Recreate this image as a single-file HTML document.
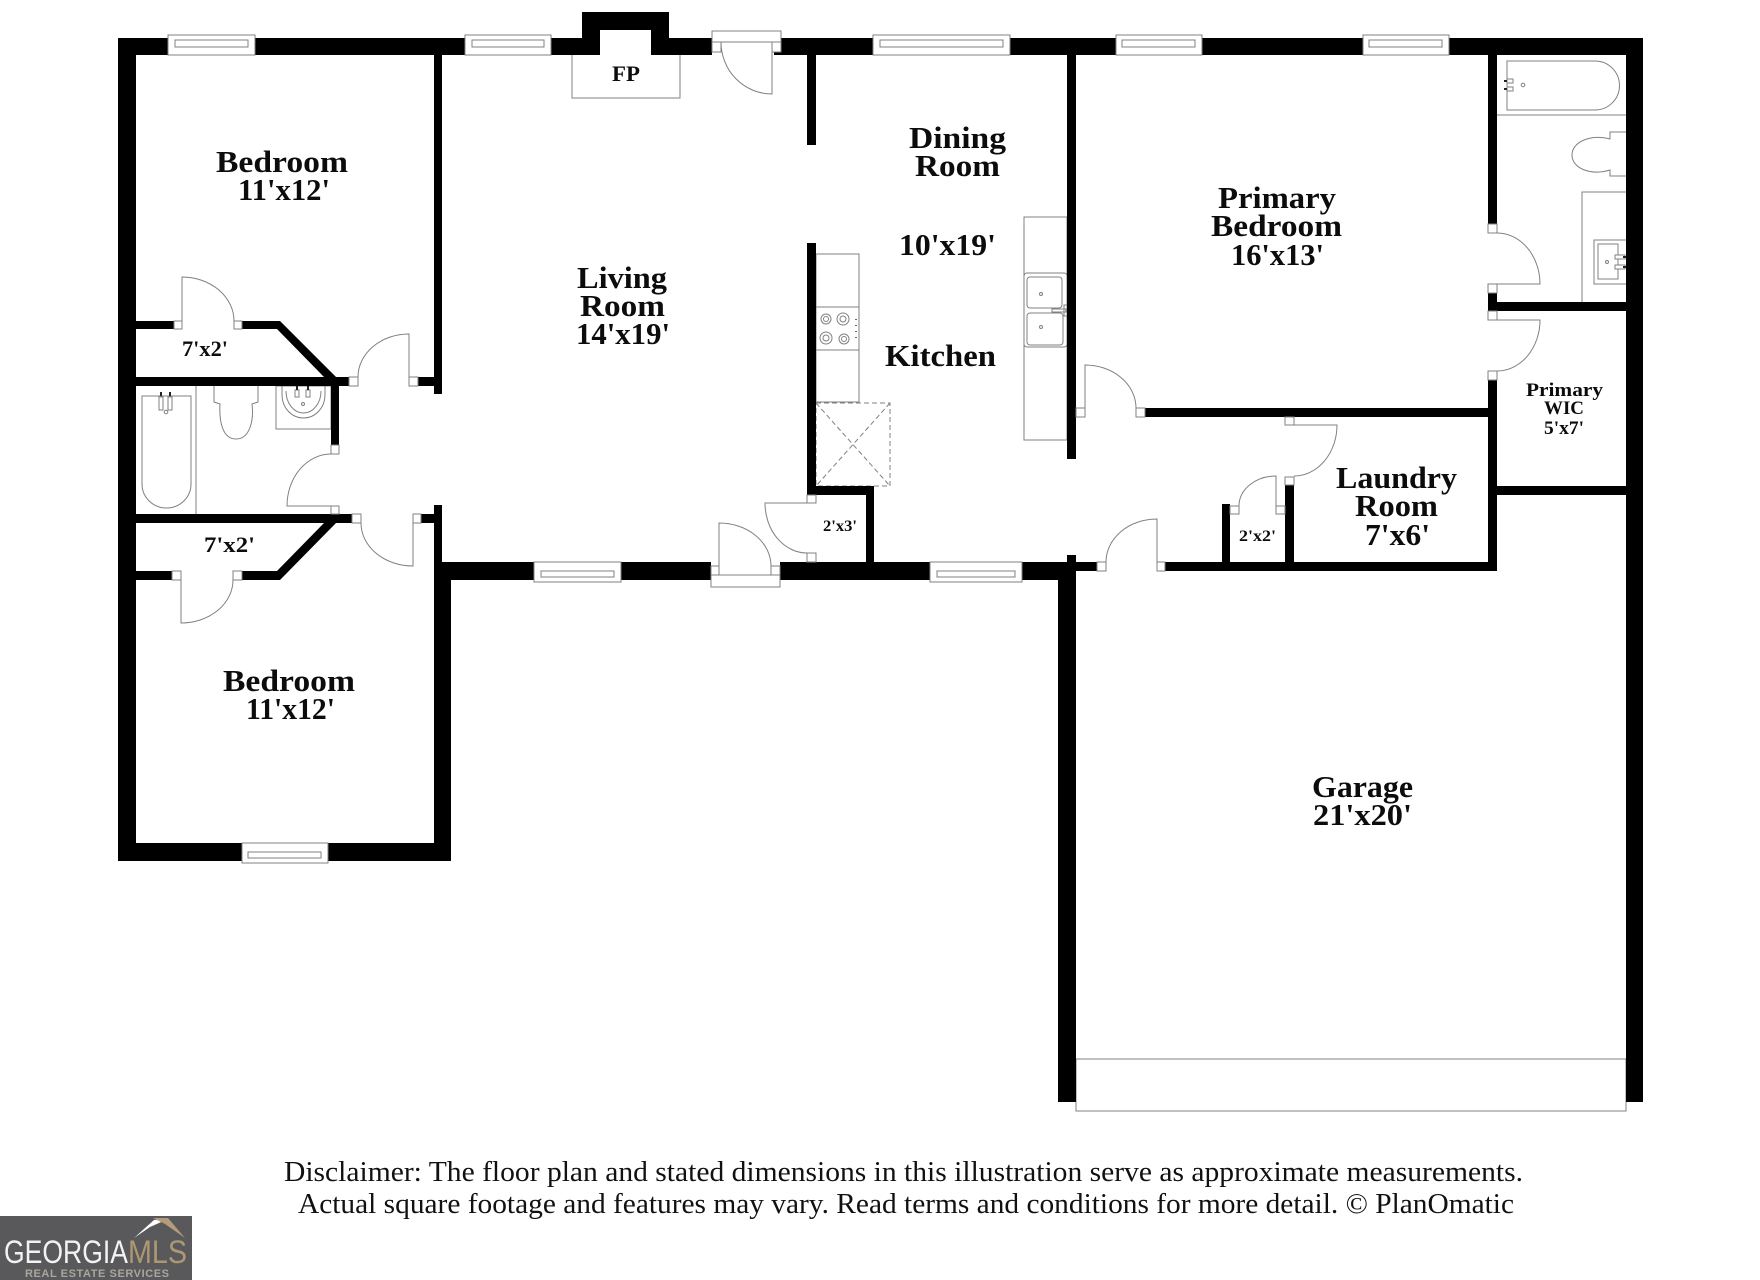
<!DOCTYPE html>
<html><head><meta charset="utf-8"><style>html,body{margin:0;padding:0;background:#fff}svg{display:block}
.l{font-family:"Liberation Serif",serif;font-weight:bold;fill:#0c0c0c}
.d{font-family:"Liberation Serif",serif;fill:#111;font-size:28px}
.f{fill:#fff;stroke:#808080;stroke-width:1}
.n{fill:none;stroke:#808080;stroke-width:1}
</style></head><body>
<svg width="1760" height="1280" viewBox="0 0 1760 1280" xmlns="http://www.w3.org/2000/svg">
<rect width="1760" height="1280" fill="#fff"/>
<!-- fixtures -->
<g class="n">
<path d="M572 55V98H680V55"/>
<rect x="816" y="254" width="43" height="148"/><path d="M816 307H859M816 350H859"/>
<circle cx="826" cy="319" r="5"/><circle cx="826" cy="319" r="2.5"/><circle cx="843" cy="319" r="6"/><circle cx="843" cy="319" r="3"/><circle cx="826" cy="338" r="6"/><circle cx="826" cy="338" r="3"/><circle cx="844" cy="339" r="5"/><circle cx="844" cy="339" r="2.5"/>
<path d="M856 319v1M856 325v1M856 331v1M856 337v1" stroke="#333" stroke-width="1.5"/>
<path d="M816 403H890V486H816ZM816 403L890 486M890 403L816 486" stroke-dasharray="5 3"/>
<rect x="1024" y="217" width="43" height="223"/><rect x="1024" y="273" width="43" height="74" rx="3"/>
<rect x="1027" y="277" width="35" height="31" rx="3"/><rect x="1027" y="313" width="36" height="32" rx="3"/>
<circle cx="1041" cy="294" r="1.5"/><circle cx="1041" cy="327" r="1.5"/><path d="M1052 309H1066V312H1052ZM1064 305H1067V316H1064Z"/>
<path d="M196 386V514"/>
<path d="M142 396H191V484A24.500 24 0 0 1 142 484Z"/>
<path d="M159 397H163V410H159ZM168 397H172V410H168Z" fill="#fff"/><circle cx="166" cy="412" r="1.800"/>
<path d="M214 386V402L220 404C219 420 222 439 236 439C250 439 254 420 252 404L258 402V386"/>
<rect x="276" y="386" width="55" height="43"/>
<path d="M282 386V395A21.500 23 0 0 0 325 395V386M286 391A17.500 22 0 0 0 321 391"/>
<path d="M295 390H299V397H295ZM306 390H310V397H306Z" fill="#fff"/><circle cx="303" cy="404" r="1.500"/>
<path d="M1497 115H1626"/>
<path d="M1507 61H1595A24.500 24.500 0 0 1 1595 110H1507Z"/>
<path d="M1507 79H1513V83H1507ZM1507 87H1513V91H1507Z" fill="#fff"/><circle cx="1523" cy="85" r="1.800"/>
<path d="M1626 132H1610V139C1590 134 1572 142 1572 155C1572 168 1590 176 1610 170V176H1626"/>
<path d="M1626 192H1582V302"/><path d="M1626 240H1594V284H1626"/><rect x="1598" y="244" width="20" height="35"/><circle cx="1607" cy="262" r="1.500"/><path d="M1615 255H1625V259H1615ZM1615 265H1625V269H1615Z" fill="#fff"/>
<path d="M1076 1059H1626M1076 1059V1111H1626V1059"/>
</g>
<g fill="#222">
<rect x="160" y="392" width="2" height="4"/><rect x="169" y="392" width="2" height="4"/>
<rect x="296" y="386" width="2" height="4"/><rect x="307" y="386" width="2" height="4"/>
<rect x="1504" y="80" width="3" height="2"/><rect x="1504" y="88" width="3" height="2"/>
<rect x="1623" y="256" width="3" height="2"/><rect x="1623" y="266" width="3" height="2"/>
</g>
<!-- walls -->
<g fill="#000">
<rect x="118" y="38" width="482" height="17"/>
<rect x="651" y="38" width="61" height="17"/>
<rect x="774" y="38" width="869" height="17"/>
<path d="M582 38V12H669V38H651V30H600V38Z"/>
<rect x="118" y="38" width="18" height="823"/>
<rect x="118" y="843" width="333" height="18"/>
<rect x="434" y="55" width="8" height="339"/>
<rect x="434" y="505" width="8" height="75"/>
<rect x="434" y="562" width="17" height="299"/>
<rect x="442" y="562" width="269" height="18"/>
<rect x="780" y="562" width="296" height="18"/>
<rect x="807" y="55" width="9" height="90"/>
<rect x="807" y="243" width="9" height="252"/>
<rect x="807" y="486" width="67" height="9"/>
<rect x="866" y="486" width="8" height="76"/>
<rect x="1067" y="55" width="9" height="404"/>
<rect x="1067" y="555" width="9" height="16"/>
<rect x="1058" y="562" width="18" height="540"/>
<rect x="1076" y="562" width="21" height="9"/>
<rect x="1165" y="562" width="332" height="9"/>
<rect x="1145" y="408" width="352" height="9"/>
<rect x="1488" y="380" width="9" height="191"/>
<rect x="1488" y="55" width="9" height="169"/>
<rect x="1488" y="293" width="9" height="18"/>
<rect x="1488" y="302" width="138" height="9"/>
<rect x="1497" y="486" width="129" height="9"/>
<rect x="1626" y="38" width="17" height="1064"/>
<rect x="1222" y="504" width="8" height="58"/>
<rect x="1285" y="485" width="9" height="77"/>
<rect x="136" y="321" width="38" height="8"/>
<rect x="242" y="321" width="38" height="8"/>
<path d="M280 321L336 377H324L277 329H280Z"/>
<rect x="136" y="377" width="213" height="9"/>
<rect x="418" y="377" width="24" height="9"/>
<rect x="331" y="386" width="8" height="59"/>
<rect x="136" y="514" width="216" height="9"/>
<rect x="421" y="514" width="13" height="9"/>
<rect x="136" y="571" width="36" height="9"/>
<rect x="242" y="571" width="35" height="9"/>
<path d="M324 523H336L280 580H277L277 571Z"/>
</g>
<!-- windows -->
<g class="f">
<rect x="168" y="35" width="87" height="20"/><rect x="175" y="40" width="73" height="7"/>
<rect x="465" y="35" width="86" height="20"/><rect x="472" y="40" width="72" height="7"/>
<rect x="873" y="35" width="137" height="20"/><rect x="880" y="40" width="123" height="7"/>
<rect x="1116" y="35" width="86" height="20"/><rect x="1122" y="40" width="73" height="7"/>
<rect x="1363" y="35" width="86" height="20"/><rect x="1369" y="40" width="73" height="7"/>
<rect x="534" y="562" width="87" height="20"/><rect x="541" y="571" width="73" height="6"/>
<rect x="930" y="562" width="92" height="20"/><rect x="937" y="571" width="78" height="6"/>
<rect x="242" y="843" width="86" height="20"/><rect x="248" y="852" width="73" height="6"/>
<!-- door frames and jambs -->
<rect x="712" y="31" width="69" height="11"/><rect x="712" y="42" width="9" height="10"/><rect x="772" y="42" width="9" height="10"/>
<rect x="711" y="575" width="69" height="12"/><rect x="711" y="566" width="8" height="9"/><rect x="771" y="566" width="9" height="9"/>
<rect x="174" y="321" width="8" height="8"/><rect x="234" y="321" width="8" height="8"/>
<rect x="349" y="377" width="9" height="9"/><rect x="409" y="377" width="9" height="9"/>
<rect x="331" y="445" width="8" height="9"/><rect x="331" y="506" width="8" height="8"/>
<rect x="352" y="514" width="9" height="9"/><rect x="413" y="514" width="8" height="9"/>
<rect x="172" y="571" width="9" height="9"/><rect x="233" y="571" width="9" height="9"/>
<rect x="807" y="495" width="9" height="8"/><rect x="807" y="553" width="9" height="9"/>
<rect x="1097" y="562" width="9" height="9"/><rect x="1157" y="562" width="8" height="9"/>
<rect x="1076" y="408" width="9" height="9"/><rect x="1136" y="408" width="9" height="9"/>
<rect x="1285" y="417" width="9" height="8"/><rect x="1285" y="477" width="9" height="8"/>
<rect x="1230" y="506" width="9" height="8"/><rect x="1276" y="506" width="9" height="8"/>
<rect x="1488" y="224" width="9" height="9"/><rect x="1488" y="284" width="9" height="9"/>
<rect x="1488" y="311" width="9" height="9"/><rect x="1488" y="371" width="9" height="9"/>
</g>
<!-- door leaves -->
<g class="n">
<path d="M182 321V277A52 44 0 0 1 234 321"/>
<path d="M409 377V334A51 43 0 0 0 358 377"/>
<path d="M331 506H287A44 52 0 0 1 331 454"/>
<path d="M413 523V566A52 43 0 0 1 361 523"/>
<path d="M181 580V623A52 43 0 0 0 233 580"/>
<path d="M772 42V94A51 52 0 0 1 721 42"/>
<path d="M719 566V523A52 43 0 0 1 771 566"/>
<path d="M807 503H765A42 50 0 0 0 807 553"/>
<path d="M1157 562V519A51 43 0 0 0 1106 562"/>
<path d="M1085 408V365A51 43 0 0 1 1136 408"/>
<path d="M1294 425H1337A43 51 0 0 1 1294 476"/>
<path d="M1276 506V476A37 30 0 0 0 1239 506"/>
<path d="M1497 284H1540A43 51 0 0 0 1497 233"/>
<path d="M1497 320H1540A43 51 0 0 1 1497 371"/>
</g>
<!-- labels -->
<g class="l" font-size="31">
<text x="216" y="172" textLength="132" lengthAdjust="spacingAndGlyphs">Bedroom</text>
<text x="238" y="200" textLength="92" lengthAdjust="spacingAndGlyphs">11'x12'</text>
<text x="223" y="691" textLength="132" lengthAdjust="spacingAndGlyphs">Bedroom</text>
<text x="246" y="719" textLength="89" lengthAdjust="spacingAndGlyphs">11'x12'</text>
<text x="577" y="288" textLength="90" lengthAdjust="spacingAndGlyphs">Living</text>
<text x="580" y="316" textLength="85" lengthAdjust="spacingAndGlyphs">Room</text>
<text x="576" y="344" textLength="94" lengthAdjust="spacingAndGlyphs">14'x19'</text>
<text x="909" y="148" textLength="97" lengthAdjust="spacingAndGlyphs">Dining</text>
<text x="915" y="176" textLength="85" lengthAdjust="spacingAndGlyphs">Room</text>
<text x="899" y="255" textLength="97" lengthAdjust="spacingAndGlyphs">10'x19'</text>
<text x="885" y="366" textLength="111" lengthAdjust="spacingAndGlyphs">Kitchen</text>
<text x="1218" y="208" textLength="118" lengthAdjust="spacingAndGlyphs">Primary</text>
<text x="1211" y="236" textLength="131" lengthAdjust="spacingAndGlyphs">Bedroom</text>
<text x="1231" y="265" textLength="93" lengthAdjust="spacingAndGlyphs">16'x13'</text>
<text x="1336" y="488" textLength="121" lengthAdjust="spacingAndGlyphs">Laundry</text>
<text x="1355" y="516" textLength="83" lengthAdjust="spacingAndGlyphs">Room</text>
<text x="1365" y="545" textLength="65" lengthAdjust="spacingAndGlyphs">7'x6'</text>
<text x="1312" y="797" textLength="101" lengthAdjust="spacingAndGlyphs">Garage</text>
<text x="1313" y="825" textLength="99" lengthAdjust="spacingAndGlyphs">21'x20'</text>
</g>
<g class="l" font-size="22">
<text x="612" y="81" textLength="28" lengthAdjust="spacingAndGlyphs">FP</text>
<text x="182" y="356" textLength="46" lengthAdjust="spacingAndGlyphs">7'x2'</text>
<text x="204" y="552" textLength="51" lengthAdjust="spacingAndGlyphs">7'x2'</text>
</g>
<g class="l" font-size="19">
<text x="1526" y="396" textLength="77" lengthAdjust="spacingAndGlyphs">Primary</text>
<text x="1544" y="414" textLength="40" lengthAdjust="spacingAndGlyphs">WIC</text>
<text x="1544" y="434" textLength="40" lengthAdjust="spacingAndGlyphs">5'x7'</text>
</g>
<g class="l" font-size="16">
<text x="823" y="531" textLength="34" lengthAdjust="spacingAndGlyphs">2'x3'</text>
<text x="1239" y="541" textLength="37" lengthAdjust="spacingAndGlyphs">2'x2'</text>
</g>
<text class="d" x="284" y="1181" textLength="1239" lengthAdjust="spacingAndGlyphs">Disclaimer: The floor plan and stated dimensions in this illustration serve as approximate measurements.</text>
<text class="d" x="298" y="1213" textLength="1216" lengthAdjust="spacingAndGlyphs">Actual square footage and features may vary. Read terms and conditions for more detail. © PlanOmatic</text>
<!-- logo -->
<rect x="0" y="1216" width="192" height="64" fill="#59595b"/>
<path d="M134 1238L154 1220L168 1219L150 1227Z" fill="#fff"/>
<path d="M153 1218H168L185 1238L165 1224Z" fill="#b39c7a"/>
<text x="4" y="1263" font-family="'Liberation Sans',sans-serif" font-size="32" fill="#f2f2f2" textLength="124" lengthAdjust="spacingAndGlyphs">GEORGIA</text>
<text x="128" y="1263" font-family="'Liberation Sans',sans-serif" font-size="32" fill="#ae9773" textLength="59" lengthAdjust="spacingAndGlyphs">MLS</text>
<text x="25" y="1277" font-family="'Liberation Sans',sans-serif" font-size="11" font-weight="bold" fill="#aaa69f" textLength="144" lengthAdjust="spacing">REAL ESTATE SERVICES</text>
</svg>
</body></html>
